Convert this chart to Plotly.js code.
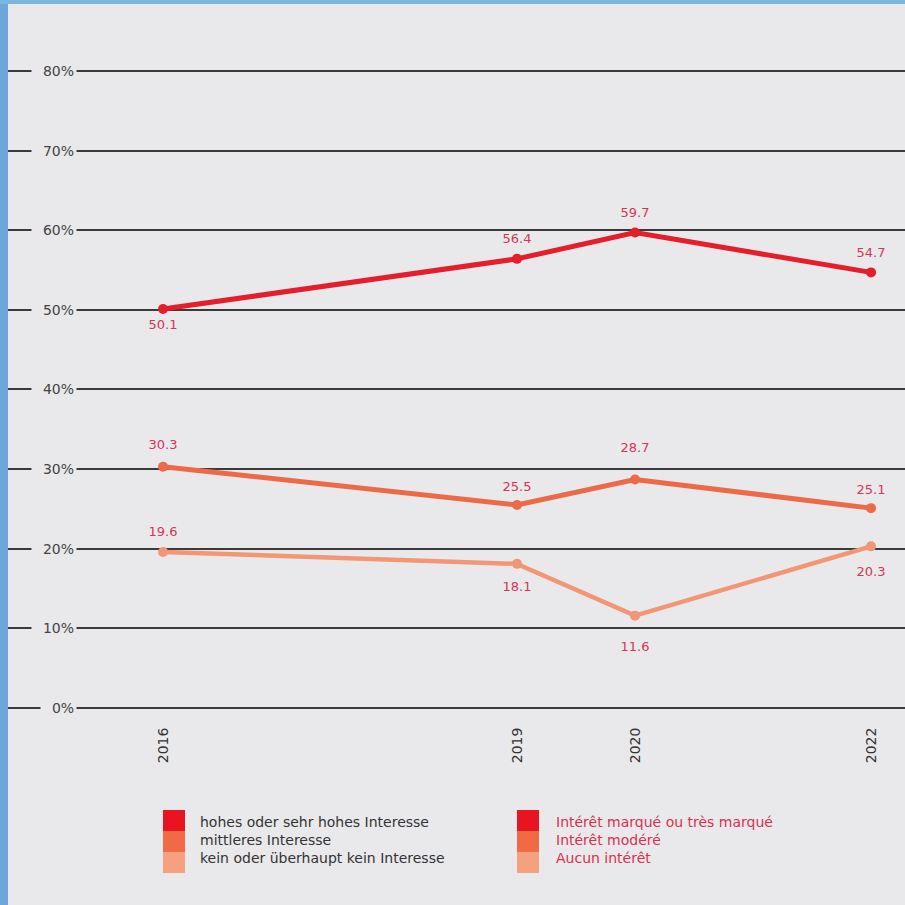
<!DOCTYPE html>
<html>
<head>
<meta charset="utf-8">
<script src="https://cdn.plot.ly/plotly-3.0.1.min.js"></script>
<style>html,body{margin:0;padding:0;background:#e9e9eb;}#chart{width:905px;height:905px;}</style>
</head>
<body>
<div id="chart"></div>
<script>
// ---- data ----
const years = [2016, 2019, 2020, 2022];
const yearLabels = ["2016", "2019", "2020", "2022"];
const highInterest = [50.1, 56.4, 59.7, 54.7];
const midInterest = [30.3, 25.5, 28.7, 25.1];
const noInterest = [19.6, 18.1, 11.6, 20.3];
const yTickVals = [0, 10, 20, 30, 40, 50, 60, 70, 80];
const yTickText = ["0%", "10%", "20%", "30%", "40%", "50%", "60%", "70%", "80%"];
const namesDE = ["hohes oder sehr hohes Interesse", "mittleres Interesse", "kein oder überhaupt kein Interesse"];
const namesFR = ["Intérêt marqué ou très marqué", "Intérêt modéré", "Aucun intérêt"];

// ---- styles ----
const W = 905, H = 905;
const colors = ["#e41e2b", "#ec6a48", "#f29676"];
const legendColors = ["#e8141f", "#f06a45", "#f5a07e"];
const labelColor = "#d4355a";
const bg = "#e9e9eb";
const font = "DejaVu Sans, Roboto, sans-serif";
const px = v => v / W;
const py = v => 1 - v / H;

const series = [highInterest, midInterest, noInterest];
const textPos = [
  ["bottom center", "top center", "top center", "top center"],
  ["top center", "top center", "top center", "top center"],
  ["top center", "bottom center", "bottom center", "bottom center"]
];
// invisible marker sizes used only to push value labels away from points
const labelPad = [
  [15, 18, 18, 18],
  [21, 15, 37, 16],
  [18, 26, 40, 31]
];
const widths = [5, 5, 4.5];

const traces = [];
series.forEach((vals, i) => {
  traces.push({
    type: "scatter",
    mode: "lines+markers",
    x: years,
    y: vals,
    line: {color: colors[i], width: widths[i]},
    marker: {color: colors[i], size: 10, line: {width: 0}},
    showlegend: false,
    hoverinfo: "skip"
  });
  traces.push({
    type: "scatter",
    mode: "markers+text",
    x: years,
    y: vals,
    text: vals.map(v => v.toFixed(1)),
    textposition: textPos[i],
    textfont: {family: font, size: 13, color: labelColor},
    marker: {color: "rgba(0,0,0,0)", size: labelPad[i], line: {width: 0, color: "rgba(0,0,0,0)"}},
    showlegend: false,
    cliponaxis: false,
    hoverinfo: "skip"
  });
});

const annotations = yTickVals.map((v, i) => ({
  xref: "paper", yref: "y", x: px(77), y: v,
  xanchor: "right", yanchor: "middle",
  text: "\u00a0\u00a0" + yTickText[i],
  showarrow: false,
  bgcolor: bg, borderpad: 2,
  font: {family: font, size: 14, color: "#444"}
}));

// legend blocks (German / French)
annotations.push({
  xref: "paper", yref: "paper", x: px(198), y: py(840),
  xanchor: "left", yanchor: "middle", align: "left", showarrow: false,
  text: namesDE.join("<br>"),
  font: {family: font, size: 14, color: "#333"}
});
annotations.push({
  xref: "paper", yref: "paper", x: px(554), y: py(840),
  xanchor: "left", yanchor: "middle", align: "left", showarrow: false,
  text: namesFR.join("<br>"),
  font: {family: font, size: 14, color: "#d9304f"}
});

const shapes = [
  {type: "rect", xref: "paper", yref: "paper", x0: 0, x1: px(8), y0: 0, y1: 1,
   fillcolor: "#6ea6da", line: {width: 0}, layer: "above"},
  {type: "rect", xref: "paper", yref: "paper", x0: 0, x1: 1, y0: py(4), y1: 1,
   fillcolor: "#7ab6de", line: {width: 0}, layer: "above"}
];
[163, 517].forEach(x0 => {
  legendColors.forEach((c, i) => {
    shapes.push({type: "rect", xref: "paper", yref: "paper",
      x0: px(x0), x1: px(x0 + 22), y0: py(810 + 21 * (i + 1)), y1: py(810 + 21 * i),
      fillcolor: c, line: {width: 0}, layer: "above"});
  });
});

const layout = {
  width: W, height: H,
  margin: {l: 0, r: 0, t: 0, b: 0},
  paper_bgcolor: bg,
  plot_bgcolor: bg,
  font: {family: font, color: "#333"},
  showlegend: false,
  xaxis: {
    domain: [px(8), 1],
    range: [2014.686, 2022.288],
    tickvals: years, ticktext: yearLabels,
    tickangle: -90,
    ticks: "outside", ticklen: 9, tickcolor: "rgba(0,0,0,0)",
    tickfont: {family: font, size: 14, color: "#333"},
    showgrid: false, zeroline: false, showline: false,
    fixedrange: true
  },
  yaxis: {
    domain: [py(712), py(8)],
    range: [-0.5, 87.9],
    tickvals: yTickVals,
    showticklabels: false,
    showgrid: true, gridcolor: "#3a3a3a", gridwidth: 2,
    zeroline: false, showline: false, ticks: "",
    fixedrange: true
  },
  annotations: annotations,
  shapes: shapes
};

Plotly.newPlot("chart", traces, layout, {displayModeBar: false, staticPlot: true});
</script>
</body>
</html>
